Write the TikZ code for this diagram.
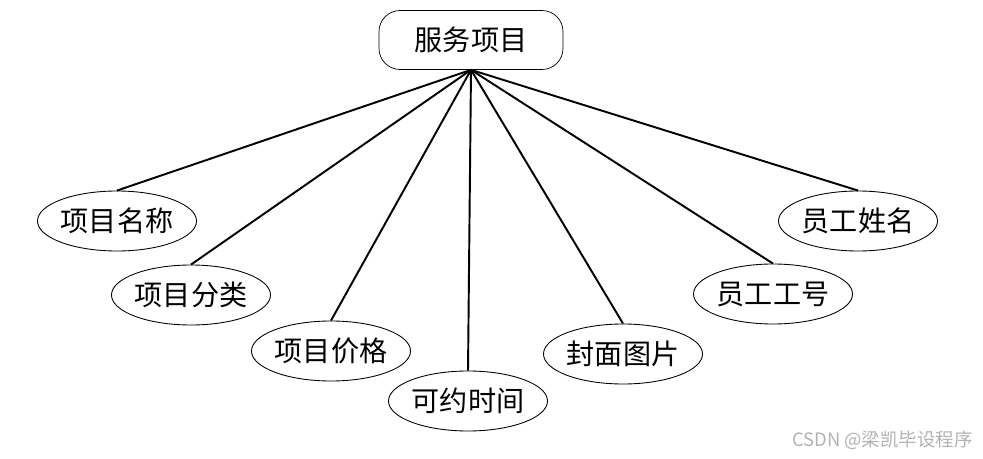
\documentclass[tikz,border=0pt]{standalone}
\usepackage{fontspec}
\setmainfont{Noto Sans CJK SC}
\usetikzlibrary{positioning, shapes}

\begin{document}
\begin{tikzpicture}[x=0.02cm,y=-0.02cm,
	entity/.style={draw,rounded corners=12,minimum width=184*0.02cm,minimum height=59*0.02cm,font=\fontsize{16}{18}\selectfont},
	attr/.style={draw,ellipse,line width=0.5pt,minimum width=158*0.02cm,minimum height=60*0.02cm,inner sep=0pt,font=\fontsize{16}{18}\selectfont},
	link/.style={line width=1.1pt}]
	
	\useasboundingbox (0,0) rectangle (983,459);
	
	%Entity
	\node[entity] (svc) at (471,40) {服务项目};
	
	%Attributes
	\node[attr] (name)  at (117,221) {项目名称};
	\node[attr] (cat)   at (191,295) {项目分类};
	\node[attr] (price) at (331,351) {项目价格};
	\node[attr] (time)  at (468,401) {可约时间};
	\node[attr] (cover) at (623,354) {封面图片};
	\node[attr] (eno)   at (773,294) {员工工号};
	\node[attr] (ename) at (858,221) {员工姓名};
	
	%Links
	\path[link] 
	(svc.south) edge (name.north)
	            edge (cat.north)
	            edge (price.north)
	            edge (time.north)
	            edge (cover.north)
	            edge (eno.north)
	            edge (ename.north);
	
	%Watermark
	\node[text=black!30,font=\fontsize{10.5}{12}\selectfont,anchor=east,inner sep=0pt] (mark) at (973,440) {CSDN @梁凯毕设程序};
	
\end{tikzpicture}
\end{document}
